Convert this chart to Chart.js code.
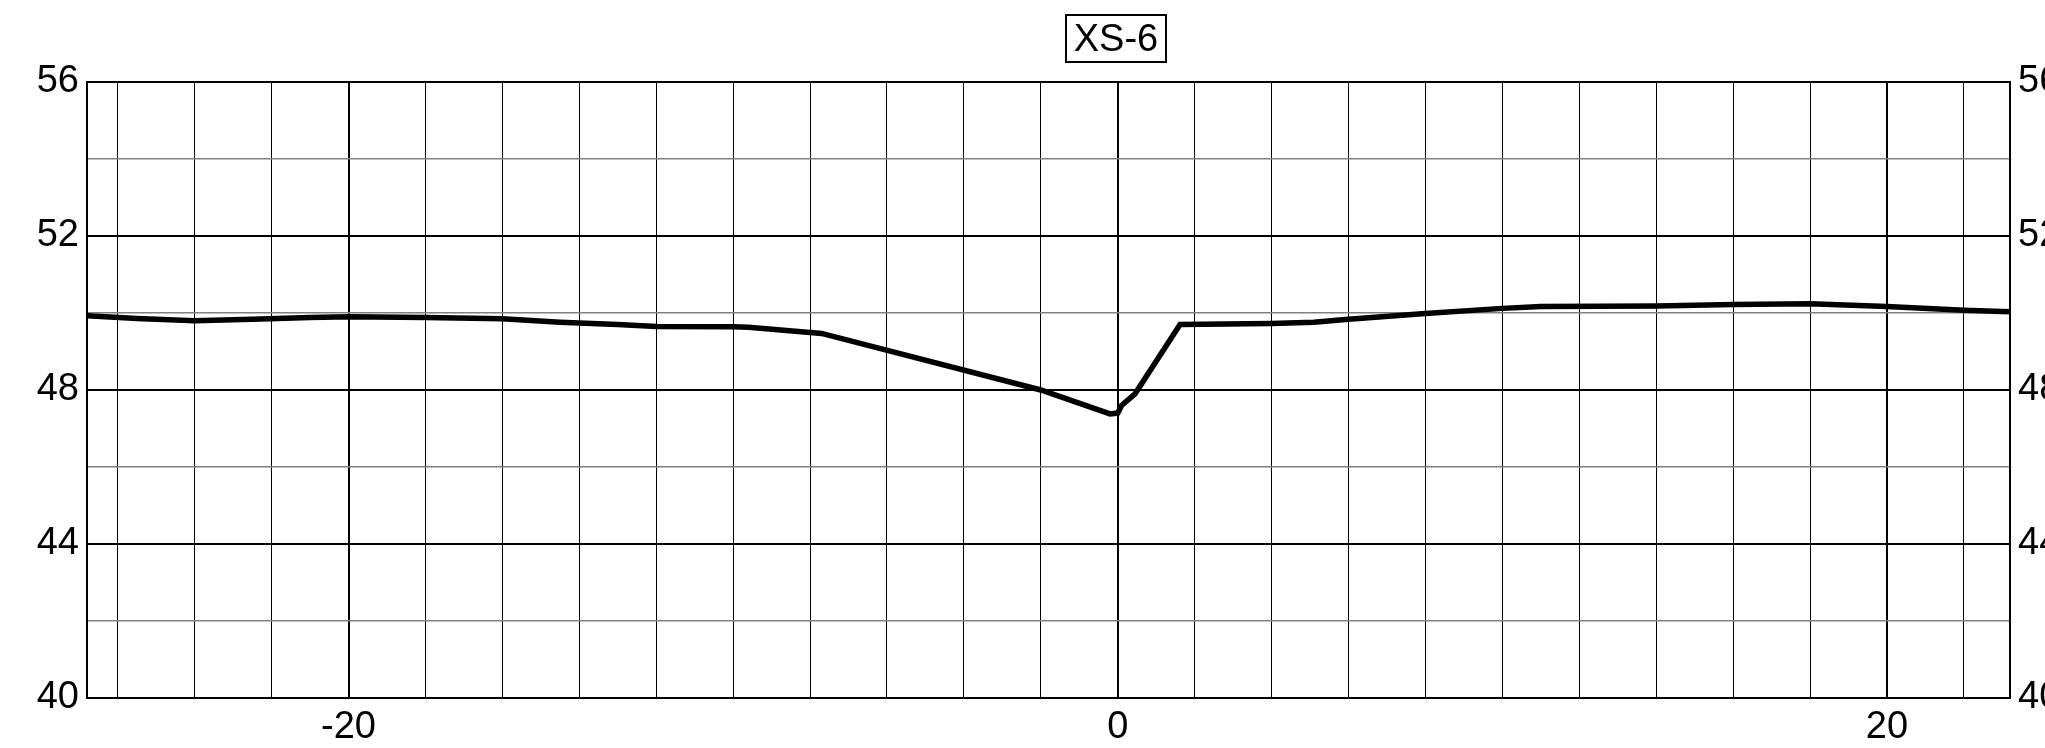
<!DOCTYPE html>
<html>
<head>
<meta charset="utf-8">
<title>XS-6</title>
<script src="https://cdn.jsdelivr.net/npm/chart.js@4.4.1/dist/chart.umd.min.js"></script>
<style>
  html, body { margin: 0; padding: 0; background: #fff; overflow: hidden; }
  #wrap { position: relative; width: 2080px; height: 748px; }
  #title {
    position: absolute; left: 1065px; top: 14px;
    width: 98px; height: 45px;
    border: 2px solid #000;
    font: 38px "Liberation Sans", Arial, sans-serif;
    line-height: 45px; text-align: center; color: #000;
  }
</style>
</head>
<body>
<div id="wrap">
  <canvas id="xsChart" width="2080" height="748"></canvas>
  <div id="title">XS-6</div>
</div>
<script>
// Профиль поперечника XS-6 (расстояние / отметка)
const stationX = [-26.8, -25.5, -24, -22.5, -21, -20, -18, -16, -14.5, -13, -12, -10, -9.6, -7.7,
  -2, -0.2, 0, 0.1, 0.45, 1.62, 4, 5.1, 6, 8, 10, 11, 14, 16, 18, 20, 22, 23.2];
const elevation = [49.93, 49.86, 49.8, 49.84, 49.88, 49.9, 49.88, 49.85, 49.76, 49.7, 49.65, 49.64, 49.63, 49.47,
  48.0, 47.38, 47.4, 47.6, 47.9, 49.7, 49.73, 49.76, 49.84, 49.99, 50.12, 50.17, 50.18, 50.22, 50.24, 50.17, 50.07, 50.03];

// Подписи осей
const xTickLabels = [-20, 0, 20];
const yTickLabels = [40, 44, 48, 52, 56];
const xMin = -26.8, xMax = 23.2;
const yMin = 40, yMax = 56;
const gridStep = 2;

Chart.defaults.font.family = '"Liberation Sans", Arial, sans-serif';
Chart.defaults.font.size = 38;
Chart.defaults.color = "#000";

const points = stationX.map((x, i) => ({ x, y: elevation[i] }));

function evenTicks(lo, hi) {
  const out = [];
  for (let v = Math.ceil(lo / gridStep) * gridStep; v <= hi + 1e-9; v += gridStep) out.push({ value: v });
  return out;
}

const yLabel = (v) => (yTickLabels.includes(v) ? String(v) : "");

const ctx = document.getElementById("xsChart").getContext("2d");
new Chart(ctx, {
  type: "line",
  data: {
    datasets: [{
      data: points,
      borderColor: "#000",
      borderWidth: 5.5,
      pointRadius: 0,
      tension: 0,
      fill: false,
    }],
  },
  options: {
    responsive: false,
    animation: false,
    devicePixelRatio: 1,
    layout: { padding: { left: 0, right: 0, top: 82, bottom: 0 } },
    plugins: { legend: { display: false }, tooltip: { enabled: false } },
    scales: {
      x: {
        type: "linear",
        min: xMin,
        max: xMax,
        afterBuildTicks: (axis) => { axis.ticks = evenTicks(xMin, xMax); },
        afterFit: (axis) => { axis.height = 50; },
        ticks: {
          padding: 7,
          maxRotation: 0,
          autoSkip: false,
          callback: (v) => (xTickLabels.includes(v) ? String(v) : ""),
        },
        grid: {
          drawTicks: false,
          color: "#000",
          lineWidth: (c) => (xTickLabels.includes(c.tick.value) ? 2 : 1),
        },
        border: { display: true, color: "#000", width: 2 },
      },
      y: {
        position: "left",
        min: yMin,
        max: yMax,
        afterBuildTicks: (axis) => { axis.ticks = evenTicks(yMin, yMax); },
        afterFit: (axis) => { axis.width = 87; },
        ticks: { padding: 8, autoSkip: false, callback: yLabel },
        grid: {
          drawTicks: false,
          color: (c) => (yTickLabels.includes(c.tick.value) ? "#000" : "#808080"),
          lineWidth: (c) => (yTickLabels.includes(c.tick.value) ? 2 : 1.5),
        },
        border: { display: true, color: "#000", width: 2 },
      },
      y2: {
        position: "right",
        min: yMin,
        max: yMax,
        afterBuildTicks: (axis) => { axis.ticks = evenTicks(yMin, yMax); },
        afterFit: (axis) => { axis.width = 70; },
        ticks: { padding: 8, autoSkip: false, callback: yLabel },
        grid: { drawOnChartArea: false, drawTicks: false },
        border: { display: true, color: "#000", width: 2 },
      },
    },
  },
});
</script>
</body>
</html>
